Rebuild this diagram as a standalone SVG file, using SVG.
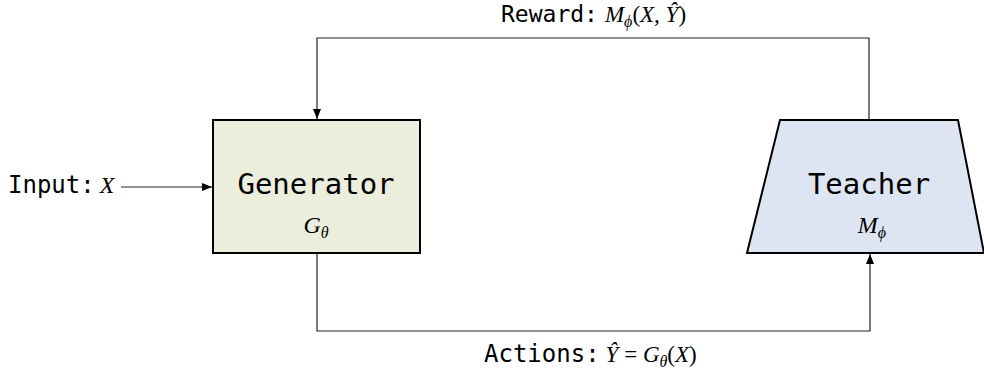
<svg xmlns="http://www.w3.org/2000/svg" width="984" height="377" viewBox="0 0 984 377">
<defs>
<marker id="arr" viewBox="0 0 10 8" refX="10" refY="4" markerWidth="10" markerHeight="8" markerUnits="userSpaceOnUse" orient="auto">
<path d="M0,0 L10,4 L0,8 z" fill="#000"/>
</marker>
</defs>
<style>
.mono{font-family:"DejaVu Sans Mono","Liberation Mono",monospace;fill:#000}
.math{font-family:"Liberation Serif","DejaVu Serif",serif;font-style:italic;fill:#000}
.up{font-style:normal}
.line{fill:none;stroke:#222;stroke-width:1.2}
.node{stroke:#000;stroke-width:2}
</style>
<rect width="984" height="377" fill="#fff"/>
<g id="connectors">
<path class="line" d="M869,120 V38 H317 V119" marker-end="url(#arr)"/>
<path class="line" d="M317,253 V331 H870 V254" marker-end="url(#arr)"/>
<path class="line" d="M121,187 H212" marker-end="url(#arr)"/>
</g>
<g id="generator">
<rect class="node" x="213" y="120" width="207" height="133" fill="#ebeedd"/>
<text class="mono" x="316" y="194" font-size="29" text-anchor="middle">Generator</text>
<text class="math" x="316" y="233" font-size="24" text-anchor="middle">G<tspan font-size="16" dy="5">θ</tspan></text>
</g>
<g id="teacher">
<polygon class="node" points="780,120 958,120 984,253 747,253" fill="#dce5f1"/>
<text class="mono" x="869" y="194" font-size="29" text-anchor="middle">Teacher</text>
<text class="math" x="872" y="233" font-size="24" text-anchor="middle">M<tspan font-size="16" dy="5">ϕ</tspan></text>
</g>
<g id="input">
<text x="8" y="193"><tspan class="mono" font-size="24">Input:</tspan><tspan class="math" font-size="24" dx="5">X</tspan></text>
</g>
<g id="reward-label">
<text x="501" y="22"><tspan class="mono" font-size="23">Reward:</tspan><tspan class="math" font-size="23" dx="7">M</tspan><tspan class="math" font-size="16" dy="5">ϕ</tspan><tspan class="math" font-size="23" dy="-5"><tspan class="up">(</tspan>X, Ŷ<tspan class="up">)</tspan></tspan></text>
</g>
<g id="actions-label">
<text x="484" y="362"><tspan class="mono" font-size="24">Actions:</tspan><tspan class="math" font-size="23" dx="6">Ŷ <tspan class="up">=</tspan> G</tspan><tspan class="math" font-size="16" dy="5">θ</tspan><tspan class="math" font-size="23" dy="-5"><tspan class="up">(</tspan>X<tspan class="up">)</tspan></tspan></text>
</g>
</svg>
